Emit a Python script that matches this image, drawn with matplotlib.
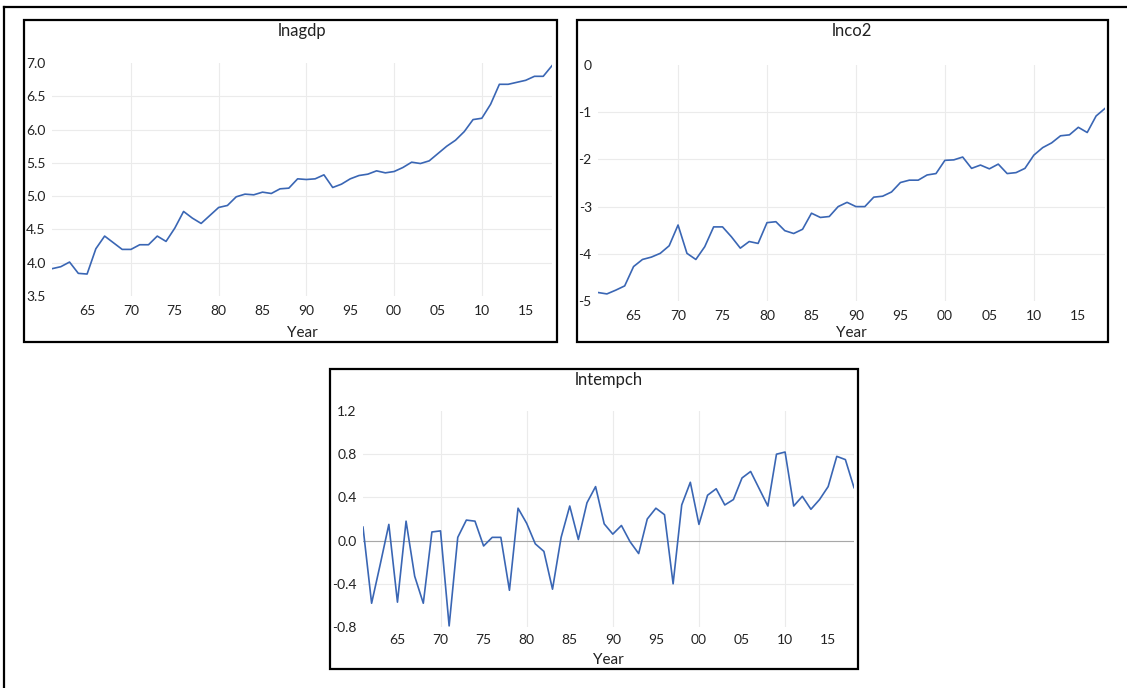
import numpy as np
import matplotlib
matplotlib.use("Agg")
import matplotlib.pyplot as plt
from matplotlib.patches import Rectangle
from matplotlib.lines import Line2D

years = np.arange(1961, 2019)

lnagdp = [3.91, 3.94, 4.01, 3.84, 3.83, 4.21, 4.40, 4.30, 4.20, 4.20,
          4.27, 4.27, 4.40, 4.32, 4.52, 4.77, 4.67, 4.59, 4.71, 4.83,
          4.86, 4.99, 5.03, 5.02, 5.06, 5.04, 5.11, 5.12, 5.26, 5.25,
          5.26, 5.32, 5.13, 5.18, 5.26, 5.31, 5.33, 5.38, 5.35, 5.37,
          5.43, 5.51, 5.49, 5.53, 5.64, 5.75, 5.84, 5.97, 6.15, 6.17,
          6.38, 6.68, 6.68, 6.71, 6.74, 6.80, 6.80, 6.96]

lnco2 = [-4.82, -4.85, -4.77, -4.68, -4.27, -4.12, -4.07, -3.99, -3.83, -3.39,
         -3.99, -4.12, -3.85, -3.43, -3.43, -3.64, -3.88, -3.74, -3.78, -3.34,
         -3.32, -3.51, -3.57, -3.48, -3.14, -3.23, -3.21, -3.00, -2.91, -3.00,
         -3.00, -2.80, -2.78, -2.69, -2.49, -2.44, -2.44, -2.33, -2.30, -2.02,
         -2.01, -1.95, -2.19, -2.12, -2.20, -2.10, -2.30, -2.28, -2.19, -1.91,
         -1.75, -1.65, -1.50, -1.48, -1.32, -1.43, -1.08, -0.92]

lntempch = [0.125, -0.58, -0.22, 0.15, -0.57, 0.18, -0.33, -0.58, 0.08, 0.09,
            -0.79, 0.03, 0.19, 0.18, -0.05, 0.03, 0.03, -0.46, 0.30, 0.16,
            -0.03, -0.10, -0.45, 0.03, 0.32, 0.01, 0.35, 0.50, 0.155, 0.06,
            0.14, -0.01, -0.12, 0.20, 0.30, 0.24, -0.40, 0.33, 0.54, 0.15,
            0.42, 0.48, 0.33, 0.38, 0.58, 0.64, 0.48, 0.32, 0.80, 0.82,
            0.32, 0.41, 0.29, 0.38, 0.50, 0.78, 0.75, 0.49]

xticks = np.arange(1965, 2019, 5)
xticklabels = ["%02d" % (y % 100) for y in xticks]
decades = [1970, 1980, 1990, 2000, 2010]

W, H = 1127, 688
plt.rcParams['font.family'] = ['Lato', 'DejaVu Sans']
fig = plt.figure(figsize=(W / 100, H / 100), dpi=100)

def px(x0, y0, x1, y1):  # pixel box -> figure fraction [l, b, w, h]
    return [x0 / W, 1 - y1 / H, (x1 - x0) / W, (y1 - y0) / H]

def box(x0, y0, x1, y1):  # black frame round a panel
    fig.patches.append(Rectangle((x0 / W, 1 - y1 / H), (x1 - x0) / W, (y1 - y0) / H,
                                 transform=fig.transFigure, fill=False,
                                 edgecolor='black', lw=1.6))

def panel(area, frame, data, title, ylim, yticks, yfmt, xpad, zero=False):
    box(*frame)
    ax = fig.add_axes(px(*area))
    for v in yticks[1:-1]:
        ax.axhline(v, color='#ebebeb', lw=0.8, zorder=0)
    for d in decades:
        ax.axvline(d, color='#ebebeb', lw=0.8, zorder=0)
    if zero:
        ax.axhline(0, color='#a8a8a8', lw=0.8, zorder=1)
    ax.plot(years, data, color='#3a66b4', lw=1.2, zorder=2)
    ax.set_xlim(1961, 2018)
    ax.set_ylim(*ylim)
    ax.set_yticks(yticks)
    ax.set_yticklabels([yfmt % v for v in yticks])
    ax.set_xticks(xticks)
    ax.set_xticklabels(xticklabels)
    ax.tick_params(length=0, labelsize=10, colors='#222222')
    ax.tick_params(axis='y', pad=4.5)
    ax.tick_params(axis='x', pad=xpad)
    for s in ax.spines.values():
        s.set_visible(False)
    ax.set_facecolor('none')
    cx = (area[0] + area[2]) / 2
    fig.text(cx / W, 1 - (frame[1] + 11) / H, title, ha='center', va='center',
             fontsize=12, color='#222222')
    fig.text(cx / W, 1 - (frame[3] - 9) / H, "Year", ha='center', va='center',
             fontsize=11, color='#222222')
    return ax

panel((52, 63, 552, 296), (24, 20, 557, 342), lnagdp, "lnagdp",
      (3.5, 7.0), [3.5, 4.0, 4.5, 5.0, 5.5, 6.0, 6.5, 7.0], "%.1f", 6.5)
panel((598, 65, 1105, 301), (577, 20, 1108, 342), lnco2, "lnco2",
      (-5, 0), [-5, -4, -3, -2, -1, 0], "%d", 6.5)
panel((363, 411, 854, 627), (330, 369, 858, 669), lntempch, "lntempch",
      (-0.8, 1.2), [-0.8, -0.4, 0.0, 0.4, 0.8, 1.2], "%.1f", 5.0, zero=True)

# outer frame, only its left and top edges fall inside the picture
fig.lines.append(Line2D([4 / W, 4 / W], [0, 1 - 7 / H], transform=fig.transFigure,
                        color='black', lw=1.6))
fig.lines.append(Line2D([4 / W, 1], [1 - 7 / H, 1 - 7 / H], transform=fig.transFigure,
                        color='black', lw=1.6))

fig.savefig("out.png", dpi=100)
